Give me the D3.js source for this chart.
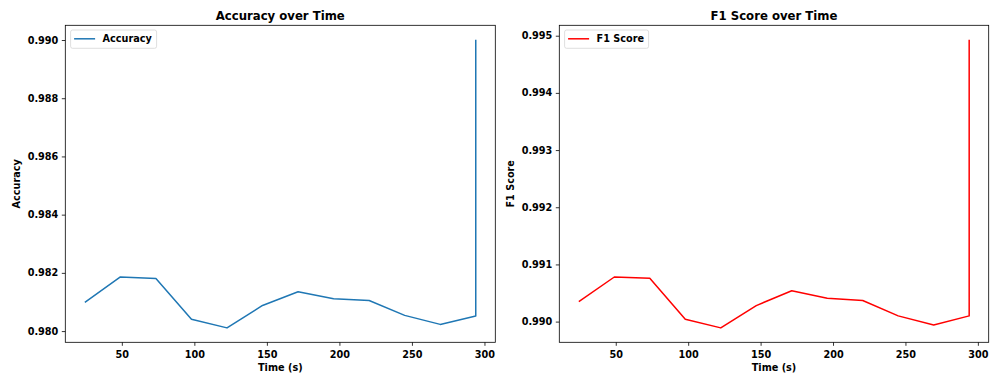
<!DOCTYPE html>
<html>
<head>
<meta charset="utf-8">
<script src="https://cdn.jsdelivr.net/npm/d3@7"></script>
<style>
  body { margin: 0; background: #fff; }
  svg { display: block; font-family: "DejaVu Sans", sans-serif; font-weight: bold; }
</style>
</head>
<body>
<svg id="chart" width="992" height="378"></svg>
<script>
// time stamps (s) - last sample repeated at end of run
var times = [24.5, 49, 73.5, 98, 122.5, 147, 171.5, 196, 220.5, 245, 269.5, 294, 294];
var accuracy = [0.98099, 0.98186, 0.98181, 0.98041, 0.98011, 0.98088, 0.98135, 0.98111, 0.98105, 0.98054, 0.98023, 0.98052, 0.99001];
var f1Score = [0.99035, 0.99078, 0.99076, 0.99004, 0.98989, 0.99028, 0.99054, 0.99041, 0.99037, 0.99010, 0.98994, 0.99010, 0.99493];
var xTicks = [50, 100, 150, 200, 250, 300];
var accTicks = [0.980, 0.982, 0.984, 0.986, 0.988, 0.990];
var f1Ticks = [0.990, 0.991, 0.992, 0.993, 0.994, 0.995];

var svg = d3.select("#chart");

function pad(ext) {
  var m = (ext[1] - ext[0]) * 0.05;
  return [ext[0] - m, ext[1] + m];
}

function drawPanel(opts) {
  var left = opts.left, right = opts.right, top = 25.3, bottom = 342.3;
  var g = svg.append("g");

  var x = d3.scaleLinear().domain(pad(d3.extent(times))).range([left, right]);
  var y = d3.scaleLinear().domain(pad(d3.extent(opts.values))).range([bottom, top]);

  // axes
  var xAxis = g.append("g")
    .attr("transform", "translate(0," + bottom + ")")
    .call(d3.axisBottom(x).tickValues(xTicks).tickSize(3.5).tickPadding(3.5).tickFormat(d3.format("d")));
  var yAxis = g.append("g")
    .attr("transform", "translate(" + left + ",0)")
    .call(d3.axisLeft(y).tickValues(opts.ticks).tickSize(3.5).tickPadding(3.5).tickFormat(d3.format(".3f")));

  [xAxis, yAxis].forEach(function (a) {
    a.select(".domain").remove();
    a.selectAll("line").attr("stroke", "#000").attr("stroke-width", 0.8);
    a.selectAll("text").attr("fill", "#000").attr("font-size", 9.7)
      .attr("font-family", "DejaVu Sans").attr("font-weight", "bold");
  });
  xAxis.selectAll("text").attr("dy", "0.9em");

  // line
  var line = d3.line()
    .x(function (d, i) { return x(times[i]); })
    .y(function (d) { return y(d); });

  g.append("path")
    .datum(opts.values)
    .attr("fill", "none")
    .attr("stroke", opts.color)
    .attr("stroke-width", 1.5)
    .attr("stroke-linejoin", "round")
    .attr("d", line);

  // frame
  g.append("rect")
    .attr("x", left).attr("y", top)
    .attr("width", right - left).attr("height", bottom - top)
    .attr("fill", "none").attr("stroke", "#000").attr("stroke-width", 0.8);

  // title + labels
  g.append("text")
    .attr("x", (left + right) / 2).attr("y", 19.5)
    .attr("text-anchor", "middle").attr("font-size", 11.7)
    .text(opts.title);

  g.append("text")
    .attr("x", (left + right) / 2).attr("y", 371)
    .attr("text-anchor", "middle").attr("font-size", 9.7)
    .text("Time (s)");

  g.append("text")
    .attr("transform", "translate(" + (left - 45) + "," + ((top + bottom) / 2) + ") rotate(-90)")
    .attr("text-anchor", "middle").attr("font-size", 9.7)
    .text(opts.ylabel);

  // legend
  var lg = g.append("g").attr("transform", "translate(" + (left + 5.3) + ",30)");
  lg.append("rect")
    .attr("width", opts.legendW).attr("height", 18.3)
    .attr("rx", 2).attr("fill", "#fff").attr("fill-opacity", 0.8)
    .attr("stroke", "#d6d6d6").attr("stroke-width", 0.8);
  lg.append("line")
    .attr("x1", 3.5).attr("x2", 24.5).attr("y1", 8.8).attr("y2", 8.8)
    .attr("stroke", opts.color).attr("stroke-width", 1.5);
  lg.append("text")
    .attr("x", 32).attr("y", 12.2).attr("font-size", 9.7)
    .text(opts.name);
}

drawPanel({
  left: 65.3, right: 495.3, values: accuracy, ticks: accTicks,
  color: "#1f77b4", title: "Accuracy over Time", ylabel: "Accuracy",
  name: "Accuracy", legendW: 86
});

drawPanel({
  left: 559.3, right: 988.7, values: f1Score, ticks: f1Ticks,
  color: "#ff0000", title: "F1 Score over Time", ylabel: "F1 Score",
  name: "F1 Score", legendW: 84
});
</script>
</body>
</html>
